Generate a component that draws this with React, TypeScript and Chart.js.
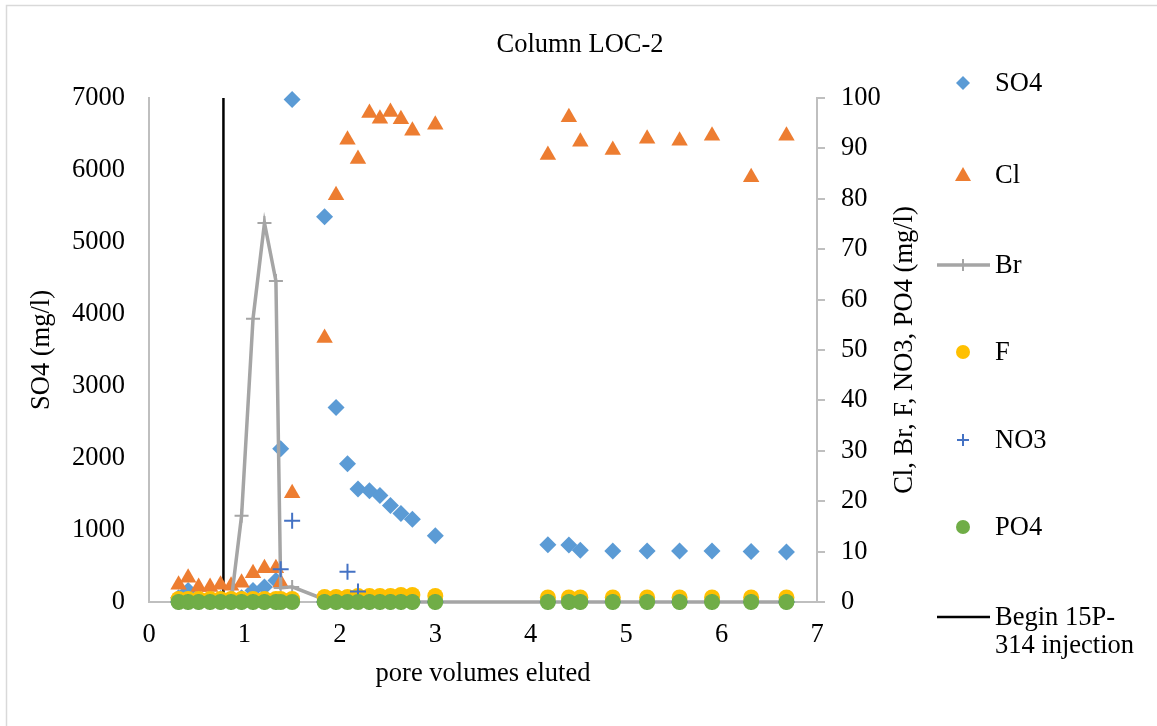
import React, { useEffect, useRef } from 'react';
import { Chart, registerables } from 'chart.js';

Chart.register(...registerables);

// ---- data ----
const poreVolumes = [
  0.31, 0.41, 0.52, 0.64, 0.75, 0.86, 0.97, 1.09, 1.21, 1.33, 1.38, 1.5,
  1.84, 1.96, 2.08, 2.19, 2.31, 2.42, 2.53, 2.64, 2.76, 3.0,
  4.18, 4.4, 4.52, 4.86, 5.22, 5.56, 5.9, 6.31, 6.68,
];
const so4 = [
  60, 160, 60, 50, 50, 50, 60, 160, 210, 300, 2130, 6980,
  5350, 2700, 1920, 1570, 1545, 1480, 1340, 1230, 1150, 920,
  795, 790, 720, 710, 710, 710, 710, 700, 695,
];
const cl = [
  3.4, 4.8, 3.0, 3.0, 3.4, 3.2, 3.8, 5.7, 6.7, 6.7, 3.8, 21.6,
  52.4, 80.7, 91.7, 87.9, 97.0, 95.9, 97.2, 95.8, 93.5, 94.7,
  88.7, 96.2, 91.3, 89.7, 91.9, 91.5, 92.5, 84.3, 92.5,
];
const br = [
  0, 0, 0, 0, 0, 0, 17.1, 56.2, 75.2, 63.7, 2.8, 3.0,
  0.5, 0, 0, 0, 0, 0, 0, 0, 0, 0,
  0, 0, 0, 0, 0, 0, 0, 0, 0,
];
const f = [
  0.6, 0.6, 0.6, 0.6, 0.6, 0.6, 0.6, 0.6, 0.6, 0.6, 0.6, 0.6,
  1.0, 1.0, 1.0, 1.2, 1.2, 1.2, 1.2, 1.4, 1.4, 1.2,
  0.9, 0.9, 0.9, 0.9, 0.9, 0.9, 0.9, 0.9, 0.9,
];
const no3 = [
  0, 0, 0, 0, 0, 0, 0, 0, 0, 0, 6.5, 16.1,
  0, 0, 6.0, 2.1, 0, 0, 0, 0, 0, 0,
  0, 0, 0, 0, 0, 0, 0, 0, 0,
];
const po4 = [
  0, 0, 0, 0, 0, 0, 0, 0, 0, 0, 0, 0,
  0, 0, 0, 0, 0, 0, 0, 0, 0, 0,
  0, 0, 0, 0, 0, 0, 0, 0, 0,
];
const injectionX = [0.78, 0.78];
const injectionY = [0, 7000];

const xTicks = [0, 1, 2, 3, 4, 5, 6, 7];
const leftTicks = [0, 1000, 2000, 3000, 4000, 5000, 6000, 7000];
const rightTicks = [0, 10, 20, 30, 40, 50, 60, 70, 80, 90, 100];

const title = 'Column LOC-2';
const xTitle = 'pore volumes eluted';
const leftTitle = 'SO4 (mg/l)';
const rightTitle = 'Cl, Br, F, NO3, PO4 (mg/l)';

const C_SO4 = '#5B9BD5';
const C_CL = '#ED7D31';
const C_BR = '#A5A5A5';
const C_F = '#FFC000';
const C_NO3 = '#4472C4';
const C_PO4 = '#70AD47';
const FONT = '"Liberation Serif", "Times New Roman", serif';
const FS = 26.5;

const pts = (ys: number[]) => poreVolumes.map((x, i) => ({ x, y: ys[i] }));
const plain = (v: any) => String(v);

const decorPlugin = {
  id: 'decor',
  afterDraw(chart: any) {
    const ctx = chart.ctx as CanvasRenderingContext2D;
    const area = chart.chartArea;
    ctx.save();
    // outer border
    ctx.strokeStyle = '#D9D9D9';
    ctx.lineWidth = 1.5;
    ctx.strokeRect(6.5, 5.5, 1300, 900);

    ctx.fillStyle = '#000';
    ctx.font = `${FS}px ${FONT}`;
    ctx.textAlign = 'center';
    ctx.textBaseline = 'alphabetic';
    ctx.fillText(title, 580, 52);
    ctx.fillText(xTitle, (area.left + area.right) / 2, 681);

    const cy = (area.top + area.bottom) / 2;
    ctx.save();
    ctx.translate(42, cy);
    ctx.rotate(-Math.PI / 2);
    ctx.textBaseline = 'middle';
    ctx.fillText(leftTitle, 0, 0);
    ctx.restore();

    ctx.save();
    ctx.translate(905, cy);
    ctx.rotate(-Math.PI / 2);
    ctx.textBaseline = 'middle';
    ctx.fillText(rightTitle, 0, 0);
    ctx.restore();

    // legend
    const mx = 963;
    const tx = 995;
    const items = [
      { label: 'SO4', y: 83, kind: 'diamond', color: C_SO4 },
      { label: 'Cl', y: 175, kind: 'triangle', color: C_CL },
      { label: 'Br', y: 265, kind: 'line', color: C_BR },
      { label: 'F', y: 352, kind: 'circle', color: C_F },
      { label: 'NO3', y: 440, kind: 'plus', color: C_NO3 },
      { label: 'PO4', y: 527, kind: 'circle', color: C_PO4 },
    ];
    ctx.textAlign = 'left';
    ctx.textBaseline = 'middle';
    for (const it of items) {
      ctx.fillStyle = it.color;
      ctx.strokeStyle = it.color;
      const y = it.y;
      if (it.kind === 'diamond') {
        ctx.beginPath();
        ctx.moveTo(mx, y - 7);
        ctx.lineTo(mx + 7, y);
        ctx.lineTo(mx, y + 7);
        ctx.lineTo(mx - 7, y);
        ctx.closePath();
        ctx.fill();
      } else if (it.kind === 'triangle') {
        ctx.beginPath();
        ctx.moveTo(mx, y - 8);
        ctx.lineTo(mx + 8, y + 6);
        ctx.lineTo(mx - 8, y + 6);
        ctx.closePath();
        ctx.fill();
      } else if (it.kind === 'circle') {
        ctx.beginPath();
        ctx.arc(mx, y, 7, 0, Math.PI * 2);
        ctx.fill();
      } else if (it.kind === 'plus') {
        ctx.lineWidth = 2;
        ctx.beginPath();
        ctx.moveTo(mx - 6, y);
        ctx.lineTo(mx + 6, y);
        ctx.moveTo(mx, y - 6);
        ctx.lineTo(mx, y + 6);
        ctx.stroke();
      } else if (it.kind === 'line') {
        ctx.lineWidth = 3.5;
        ctx.beginPath();
        ctx.moveTo(937, y);
        ctx.lineTo(990, y);
        ctx.stroke();
        ctx.lineWidth = 2;
        ctx.beginPath();
        ctx.moveTo(mx, y - 6);
        ctx.lineTo(mx, y + 6);
        ctx.stroke();
      }
      ctx.fillStyle = '#000';
      ctx.fillText(it.label, tx, y + 1);
    }
    ctx.strokeStyle = '#000';
    ctx.lineWidth = 2.5;
    ctx.beginPath();
    ctx.moveTo(937, 617);
    ctx.lineTo(990, 617);
    ctx.stroke();
    ctx.fillStyle = '#000';
    ctx.fillText('Begin 15P-', tx, 618);
    ctx.fillText('314 injection', tx, 646);
    ctx.restore();
  },
};

export default function App() {
  const ref = useRef<HTMLCanvasElement | null>(null);
  useEffect(() => {
    if (!ref.current) return;
    Chart.defaults.font.family = FONT;
    const chart = new Chart(ref.current, {
      type: 'scatter',
      data: {
        datasets: [
          {
            label: 'PO4', data: pts(po4), yAxisID: 'y1', order: 0, clip: false,
            pointStyle: 'circle', pointRadius: 8, pointBackgroundColor: C_PO4,
            pointBorderColor: C_PO4, pointBorderWidth: 0, showLine: false,
          },
          {
            label: 'NO3', data: pts(no3), yAxisID: 'y1', order: 1, clip: false,
            pointStyle: 'cross', pointRadius: 8, pointBorderColor: C_NO3,
            pointBorderWidth: 2, showLine: false,
          },
          {
            label: 'F', data: pts(f), yAxisID: 'y1', order: 2, clip: false,
            pointStyle: 'circle', pointRadius: 8, pointBackgroundColor: C_F,
            pointBorderColor: C_F, pointBorderWidth: 0, showLine: false,
          },
          {
            label: 'Br', data: pts(br), yAxisID: 'y1', order: 3, clip: false,
            showLine: true, borderColor: C_BR, borderWidth: 3.5, tension: 0,
            pointStyle: 'cross', pointRadius: 7, pointBorderColor: C_BR,
            pointBorderWidth: 2,
          },
          {
            label: 'Cl', data: pts(cl), yAxisID: 'y1', order: 4, clip: false,
            pointStyle: 'triangle', pointRadius: 9.5, pointBackgroundColor: C_CL,
            pointBorderColor: C_CL, pointBorderWidth: 0, showLine: false,
          },
          {
            label: 'SO4', data: pts(so4), yAxisID: 'y', order: 5, clip: false,
            pointStyle: 'rectRot', pointRadius: 8.5, pointBackgroundColor: C_SO4,
            pointBorderColor: C_SO4, pointBorderWidth: 0, showLine: false,
          },
          {
            label: 'Begin 15P-314 injection',
            data: injectionX.map((x, i) => ({ x, y: injectionY[i] })),
            yAxisID: 'y', order: 6, clip: false, showLine: true, borderColor: '#000',
            borderWidth: 2.5, pointRadius: 0,
          },
        ] as any,
      },
      options: {
        animation: false,
        responsive: false,
        maintainAspectRatio: false,
        events: [],
        layout: { padding: { top: 98, left: 0, right: 0, bottom: 0 } },
        plugins: { legend: { display: false }, tooltip: { enabled: false }, title: { display: false } },
        scales: {
          x: {
            type: 'linear', min: 0, max: 7,
            afterBuildTicks: (s: any) => { s.ticks = xTicks.map((v) => ({ value: v })); },
            afterFit: (s: any) => { s.height = 124; },
            ticks: { color: '#000', font: { size: FS, family: FONT }, padding: 17, maxRotation: 0, callback: plain },
            grid: { display: true, drawOnChartArea: false, drawTicks: false },
            border: { display: true, color: '#BFBFBF', width: 2 },
          },
          y: {
            type: 'linear', position: 'left', min: 0, max: 7000,
            afterBuildTicks: (s: any) => { s.ticks = leftTicks.map((v) => ({ value: v })); },
            afterFit: (s: any) => { s.width = 149; },
            ticks: { color: '#000', font: { size: FS, family: FONT }, padding: 24, callback: plain },
            grid: { display: true, drawOnChartArea: false, drawTicks: false },
            border: { display: true, color: '#BFBFBF', width: 2 },
          },
          y1: {
            type: 'linear', position: 'right', min: 0, max: 100,
            afterBuildTicks: (s: any) => { s.ticks = rightTicks.map((v) => ({ value: v })); },
            afterFit: (s: any) => { s.width = 340; },
            ticks: { color: '#000', font: { size: FS, family: FONT }, padding: 16, callback: plain },
            grid: { display: true, drawOnChartArea: false, drawTicks: true, tickLength: 8, color: '#BFBFBF', lineWidth: 2 },
            border: { display: true, color: '#BFBFBF', width: 2 },
          },
        },
      } as any,
      plugins: [decorPlugin],
    });
    return () => chart.destroy();
  }, []);
  return (
    <div style={{ position: 'fixed', left: 0, top: 0, width: 1157, height: 726, background: '#fff' }}>
      <canvas ref={ref} width={1157} height={726} style={{ display: 'block', width: 1157, height: 726 }} />
    </div>
  );
}
